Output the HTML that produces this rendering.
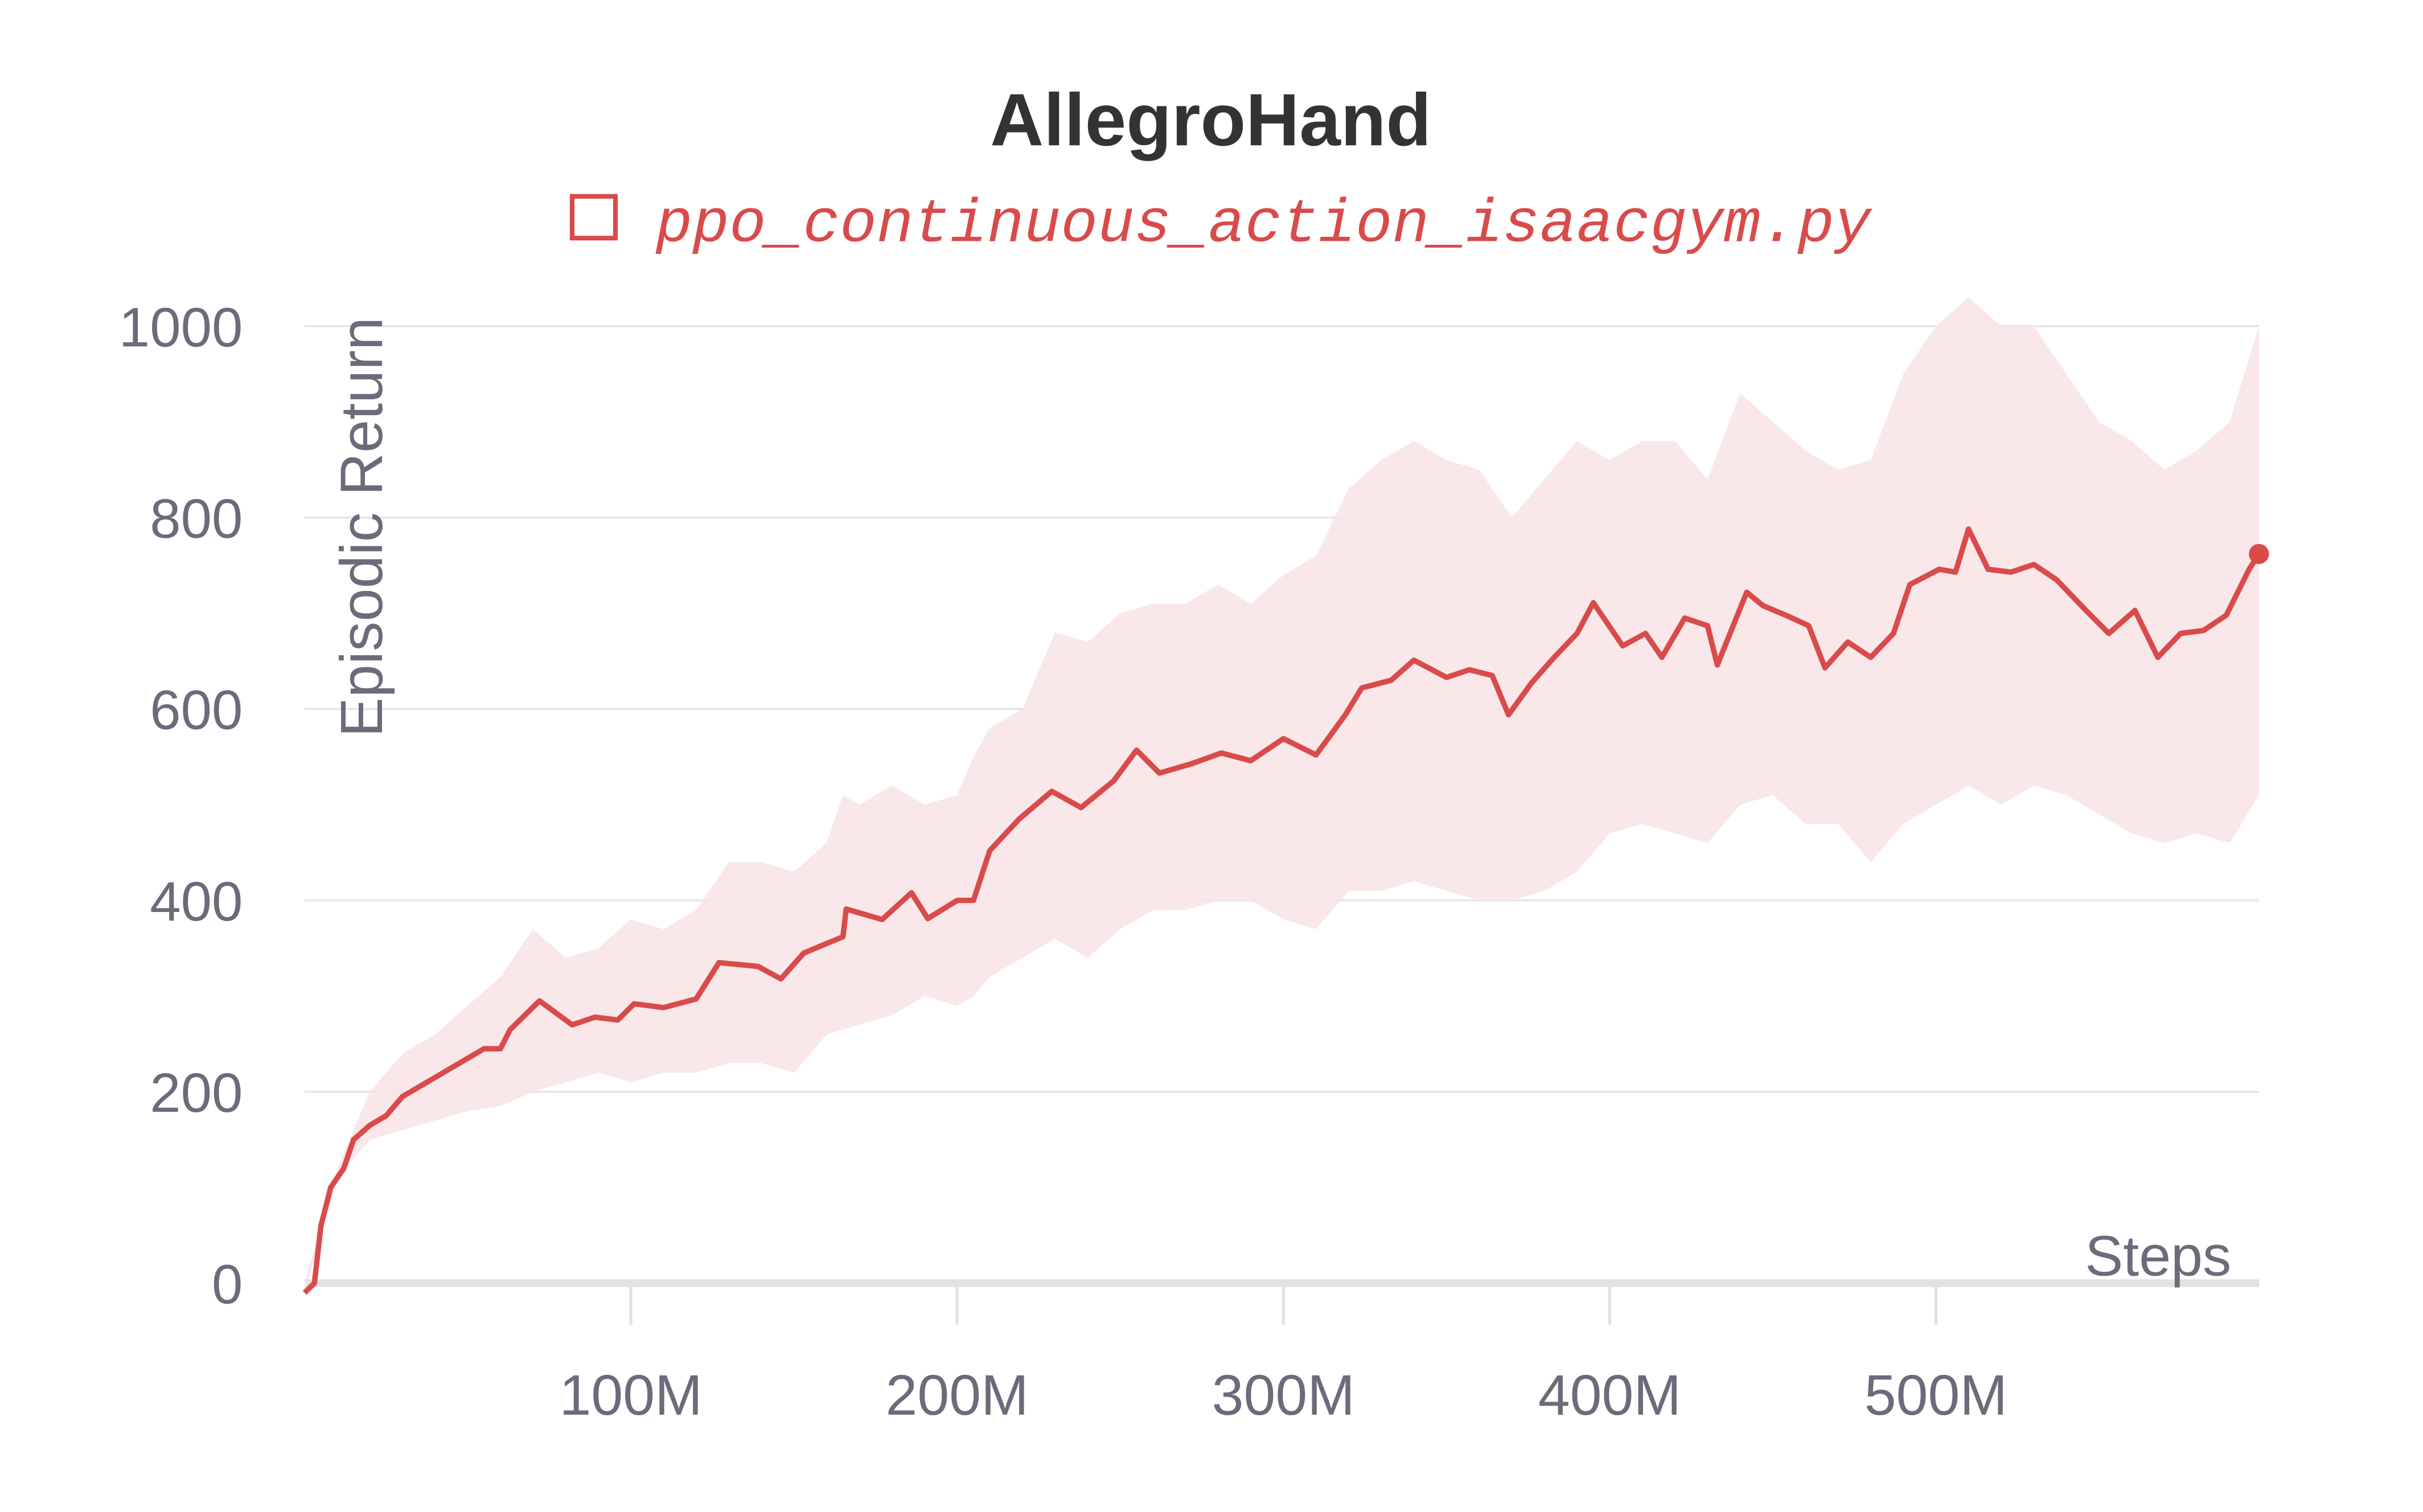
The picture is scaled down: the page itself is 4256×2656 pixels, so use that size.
<!DOCTYPE html>
<html><head><meta charset="utf-8"><style>
html,body{margin:0;padding:0;background:#fff;}
svg{display:block;}
text{font-family:"Liberation Sans",sans-serif;}
</style></head><body>
<svg id="chart" width="4256" height="2656" viewBox="0 0 1567 978" preserveAspectRatio="none" xmlns="http://www.w3.org/2000/svg">
<text x="783" y="94" text-anchor="middle" font-size="48" font-weight="bold" fill="#333">AllegroHand</text>
<g>
<rect x="370" y="127" width="28" height="27" fill="none" stroke="#d94b4b" stroke-width="3"/>
<text x="424" y="156" font-size="39.7" font-style="italic" fill="#d94b4b" style="font-family:'Liberation Mono',monospace">ppo_continuous_action_isaacgym.py</text>
</g>
<g id="grid"></g>
<g id="yticks"></g>
<g id="xticks"></g>
<path id="band" fill="#f8e3e5" opacity="0.85"/>
<path id="line" fill="none" stroke="#d94b4b" stroke-width="3.5" stroke-linejoin="round"/>
<circle id="dot" r="6.5" fill="#d94b4b"/>
<text transform="translate(247,341) rotate(-90)" text-anchor="middle" font-size="38.5" fill="#6b6b7b">Episodic Return</text>
<text x="1443" y="825" text-anchor="end" font-size="37" fill="#6b6b7b">Steps</text>
</svg>
<script>
const meanSteps=[0,3,5,8,12,15,20,25,30,35,40,45,50,55,60,63,72,82,89,96,101,110,120,127,139,146,153,165,166,177,186,191,200,205,210,219,229,238,248,255,262,272,281,290,300,310,319,324,333,340,350,357,364,369,376,383,390,395,404,411,416,423,430,433,442,447,454,461,466,473,480,487,492,501,506,510,516,523,530,537,546,553,561,568,575,582,589,596,599];
const meanVals=[-10,0,60,100,120,150,165,175,195,205,215,225,235,245,245,265,295,270,278,275,292,288,297,335,331,318,345,362,391,380,408,381,400,400,452,485,514,497,525,557,533,543,554,546,569,552,594,622,630,651,633,641,635,594,627,654,679,711,666,679,654,695,687,646,722,708,698,687,643,670,654,679,730,746,743,788,746,743,751,735,703,679,703,654,679,682,698,746,762];
const bandSteps=[0,10,20,30,40,50,60,70,80,90,100,110,120,130,140,150,160,165,170,180,190,200,205,210,220,230,240,250,260,270,280,290,300,310,320,330,340,350,360,370,380,390,400,410,420,430,440,450,460,470,480,490,500,510,520,530,540,550,560,570,580,590,599];
const upperVals=[0,120,200,240,260,290,320,370,340,350,380,370,390,440,440,430,460,510,500,520,500,510,550,580,600,680,670,700,710,710,730,710,740,760,830,860,880,860,850,800,840,880,860,880,880,840,930,900,870,850,860,950,1000,1030,1000,1000,950,900,880,850,870,900,1000];
const lowerVals=[-10,110,150,160,170,180,185,200,210,220,210,220,220,230,230,220,260,265,270,280,300,290,300,320,340,360,340,370,390,390,400,400,380,370,410,410,420,410,400,400,410,430,470,480,470,460,500,510,480,480,440,480,500,520,500,520,510,490,470,460,470,460,510];
const yTicks=[0,200,400,600,800,1000];
const xTicks=[100,200,300,400,500];
const xTickLabels=["100M","200M","300M","400M","500M"];

const X=s=>197+s*2.11;
const Y=v=>830-v*0.619;
const ns="http://www.w3.org/2000/svg";
const grid=document.getElementById('grid'),yt=document.getElementById('yticks'),xt=document.getElementById('xticks');
yTicks.forEach(v=>{
  const l=document.createElementNS(ns,'line');
  
  
  l.setAttribute('x1',197);l.setAttribute('x2',1461);l.setAttribute('y1',Y(v));l.setAttribute('y2',Y(v));
  l.setAttribute('stroke',v===0?'#e2e2e2':'#e8e8e8');l.setAttribute('stroke-width',v===0?5:1.5);
  grid.appendChild(l);
  const t=document.createElementNS(ns,'text');
  
  
  t.setAttribute('x',157);t.setAttribute('y',Y(v)+13);t.setAttribute('text-anchor','end');
  t.setAttribute('font-size','36');t.setAttribute('fill','#6b6b7b');t.textContent=v;
  yt.appendChild(t);
});
xTicks.forEach((s,i)=>{
  const l=document.createElementNS(ns,'line');
  
  
  l.setAttribute('x1',X(s));l.setAttribute('x2',X(s));l.setAttribute('y1',828);l.setAttribute('y2',857);
  l.setAttribute('stroke','#e2e2e2');l.setAttribute('stroke-width',2);
  xt.appendChild(l);
  const t=document.createElementNS(ns,'text');
  
  
  t.setAttribute('x',X(s));t.setAttribute('y',915);t.setAttribute('text-anchor','middle');
  t.setAttribute('font-size','37');t.setAttribute('fill','#6b6b7b');t.textContent=xTickLabels[i];
  xt.appendChild(t);
});
let d='';
bandSteps.forEach((s,i)=>{d+=(i?'L':'M')+X(s)+','+Y(upperVals[i]);});
for(let i=bandSteps.length-1;i>=0;i--)d+='L'+X(bandSteps[i])+','+Y(lowerVals[i]);
document.getElementById('band').setAttribute('d',d+'Z');
let m='';
meanSteps.forEach((s,i)=>{m+=(i?'L':'M')+X(s)+','+Y(meanVals[i]);});
document.getElementById('line').setAttribute('d',m);
const n=meanSteps.length-1,dot=document.getElementById('dot');
dot.setAttribute('cx',X(meanSteps[n]));dot.setAttribute('cy',Y(meanVals[n]));
</script>
</body></html>
